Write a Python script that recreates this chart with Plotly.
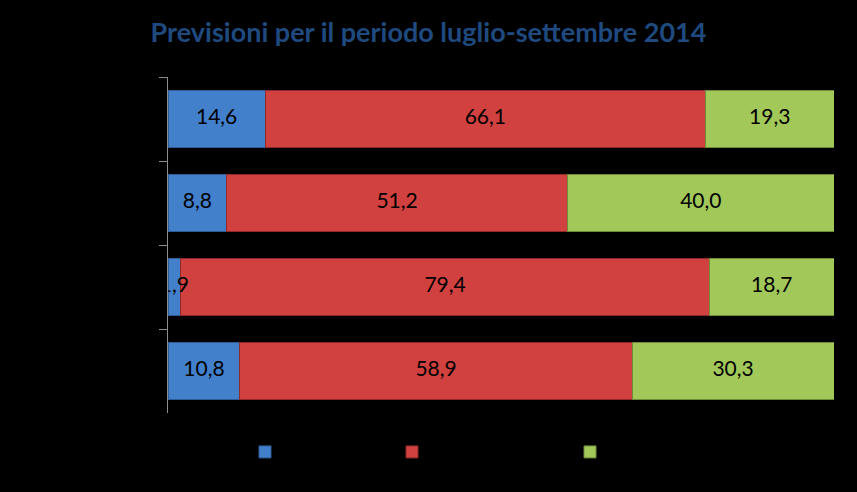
import plotly.graph_objects as go

categories = ["Nord-Ovest", "Nord-Est", "Centro", "Sud e Isole"]
aumento = [14.6, 8.8, 1.9, 10.8]
stabile = [66.1, 51.2, 79.4, 58.9]
diminuzione = [19.3, 40.0, 18.7, 30.3]
series_names = ["Aumento", "Stabilità", "Diminuzione"]
colors = ["#4280CC", "#D0413F", "#A2C85A"]
edge_colors = ["#2E5C96", "#8E2B2A", "#6F8B3A"]
title_text = "Previsioni per il periodo luglio-settembre 2014"

fig = go.Figure()
legend_ids = ["legend", "legend2", "legend3"]
all_series = [aumento, stabile, diminuzione]
for name, vals, col, ecol, lg in zip(series_names, all_series, colors, edge_colors, legend_ids):
    fig.add_trace(go.Bar(
        y=categories, x=vals, name=name, orientation="h",
        marker=dict(color=col, line=dict(color=ecol, width=1)),
        legend=lg, hoverinfo="x+name",
    ))

# data labels drawn on top of all bars, centred on each segment
base = [0.0] * len(categories)
for vals in all_series:
    mids = [b + v / 2 for b, v in zip(base, vals)]
    fig.add_trace(go.Scatter(
        x=mids, y=categories, mode="text",
        text=[f"{v:.1f}".replace(".", ",") for v in vals],
        textposition="middle center",
        textfont=dict(color="black", size=21, family="Lato"),
        showlegend=False, hoverinfo="skip", cliponaxis=False,
    ))
    base = [b + v for b, v in zip(base, vals)]

leg_common = dict(orientation="h", yanchor="middle", y=-0.116, xanchor="left",
                  font=dict(color="black", size=13, family="Lato"), bgcolor="rgba(0,0,0,0)")
fig.update_layout(
    barmode="stack", bargap=0.33,
    paper_bgcolor="black", plot_bgcolor="black",
    width=857, height=492,
    margin=dict(l=168, r=23, t=77, b=79),
    title=dict(text="<b>" + title_text + "</b>", x=0.5, xanchor="center", y=0.933, yanchor="middle",
               font=dict(family="Lato", size=27, color="#1F4A80")),
    xaxis=dict(range=[0, 100.0001], visible=False, fixedrange=True),
    yaxis=dict(autorange="reversed", showline=True, linecolor="#8C8C8C", linewidth=1,
               ticks="outside", tickson="boundaries", ticklen=8, tickcolor="#8C8C8C",
               showticklabels=False, showgrid=False, zeroline=False),
    legend=dict(x=(245 - 168) / 666, **leg_common),
    legend2=dict(x=(392 - 168) / 666, **leg_common),
    legend3=dict(x=(570 - 168) / 666, **leg_common),
    showlegend=True,
)
fig.write_html("out.html")
